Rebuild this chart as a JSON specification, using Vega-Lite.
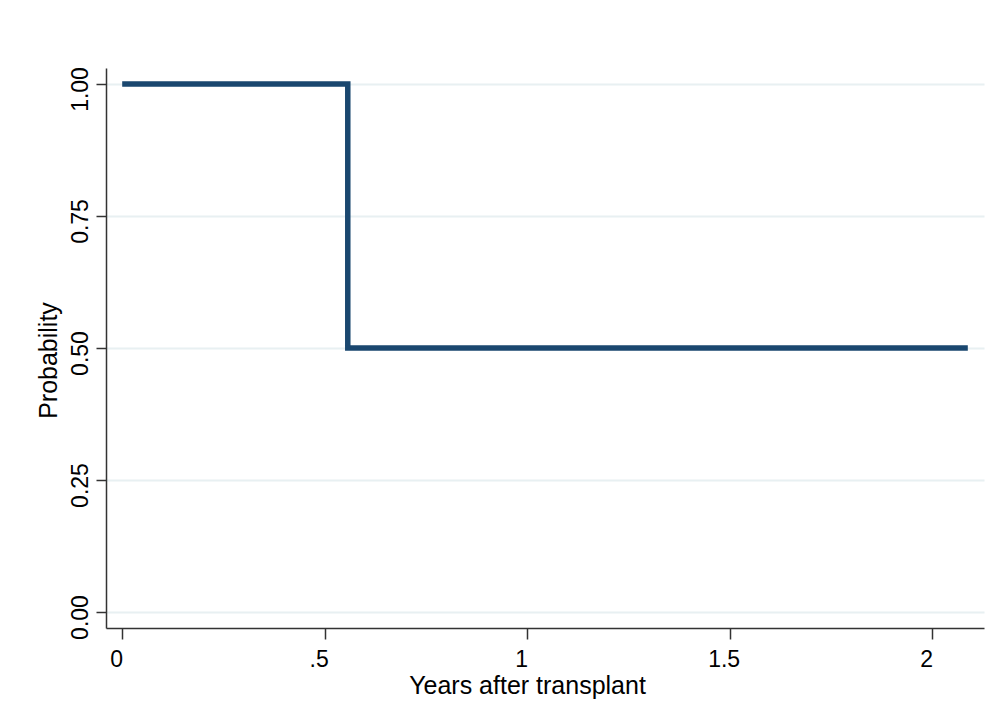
{
  "$schema": "https://vega.github.io/schema/vega-lite/v6.json",
  "autosize": {"type": "none"},
  "padding": {"left": 106, "top": 68, "right": 11, "bottom": 95},
  "width": 878,
  "height": 560,
  "background": "white",
  "config": {
    "view": {"stroke": null},
    "font": "Liberation Sans"
  },
  "data": {
    "values": [
      {"years": 0, "prob": 1.0},
      {"years": 0.557, "prob": 0.5},
      {"years": 2.088, "prob": 0.5}
    ]
  },
  "mark": {"type": "line", "interpolate": "step-after", "color": "#1a476f", "strokeWidth": 5.5, "strokeCap": "butt", "clip": false},
  "encoding": {
    "x": {
      "field": "years",
      "type": "quantitative",
      "scale": {"domain": [-0.04, 2.128], "nice": false, "zero": false},
      "axis": {
        "title": "Years after transplant",
        "values": [0, 0.5, 1, 1.5, 2],
        "format": "~g",
        "labelExpr": "datum.value == 0.5 ? '.5' : datum.label",
        "grid": false,
        "domainColor": "#333333",
        "domainWidth": 1.5,
        "tickColor": "#333333",
        "tickWidth": 1.5,
        "tickSize": 11,
        "labelFontSize": 23,
        "labelColor": "black",
        "labelPadding": 9,
        "labelOffset": -6,
        "titleFontSize": 25,
        "titleFontWeight": "normal",
        "titleColor": "black",
        "titleX": 421,
        "titleY": 65,
        "titleBaseline": "alphabetic"
      }
    },
    "y": {
      "field": "prob",
      "type": "quantitative",
      "scale": {"domain": [-0.0303, 1.0303], "nice": false, "zero": false},
      "axis": {
        "title": "Probability",
        "values": [0, 0.25, 0.5, 0.75, 1],
        "format": ".2f",
        "grid": true,
        "gridColor": "#e8f0f2",
        "gridWidth": 2,
        "domainColor": "#333333",
        "domainWidth": 1.5,
        "tickColor": "#333333",
        "tickWidth": 1.5,
        "tickSize": 10,
        "labelFontSize": 23,
        "labelColor": "black",
        "labelAngle": -90,
        "labelAlign": "center",
        "labelBaseline": "alphabetic",
        "labelPadding": 9,
        "labelOffset": 5,
        "titleFontSize": 25,
        "titleFontWeight": "normal",
        "titleColor": "black",
        "titleAngle": -90,
        "titleAlign": "center",
        "titleBaseline": "alphabetic",
        "titleX": -50,
        "titleY": 292
      }
    }
  }
}
